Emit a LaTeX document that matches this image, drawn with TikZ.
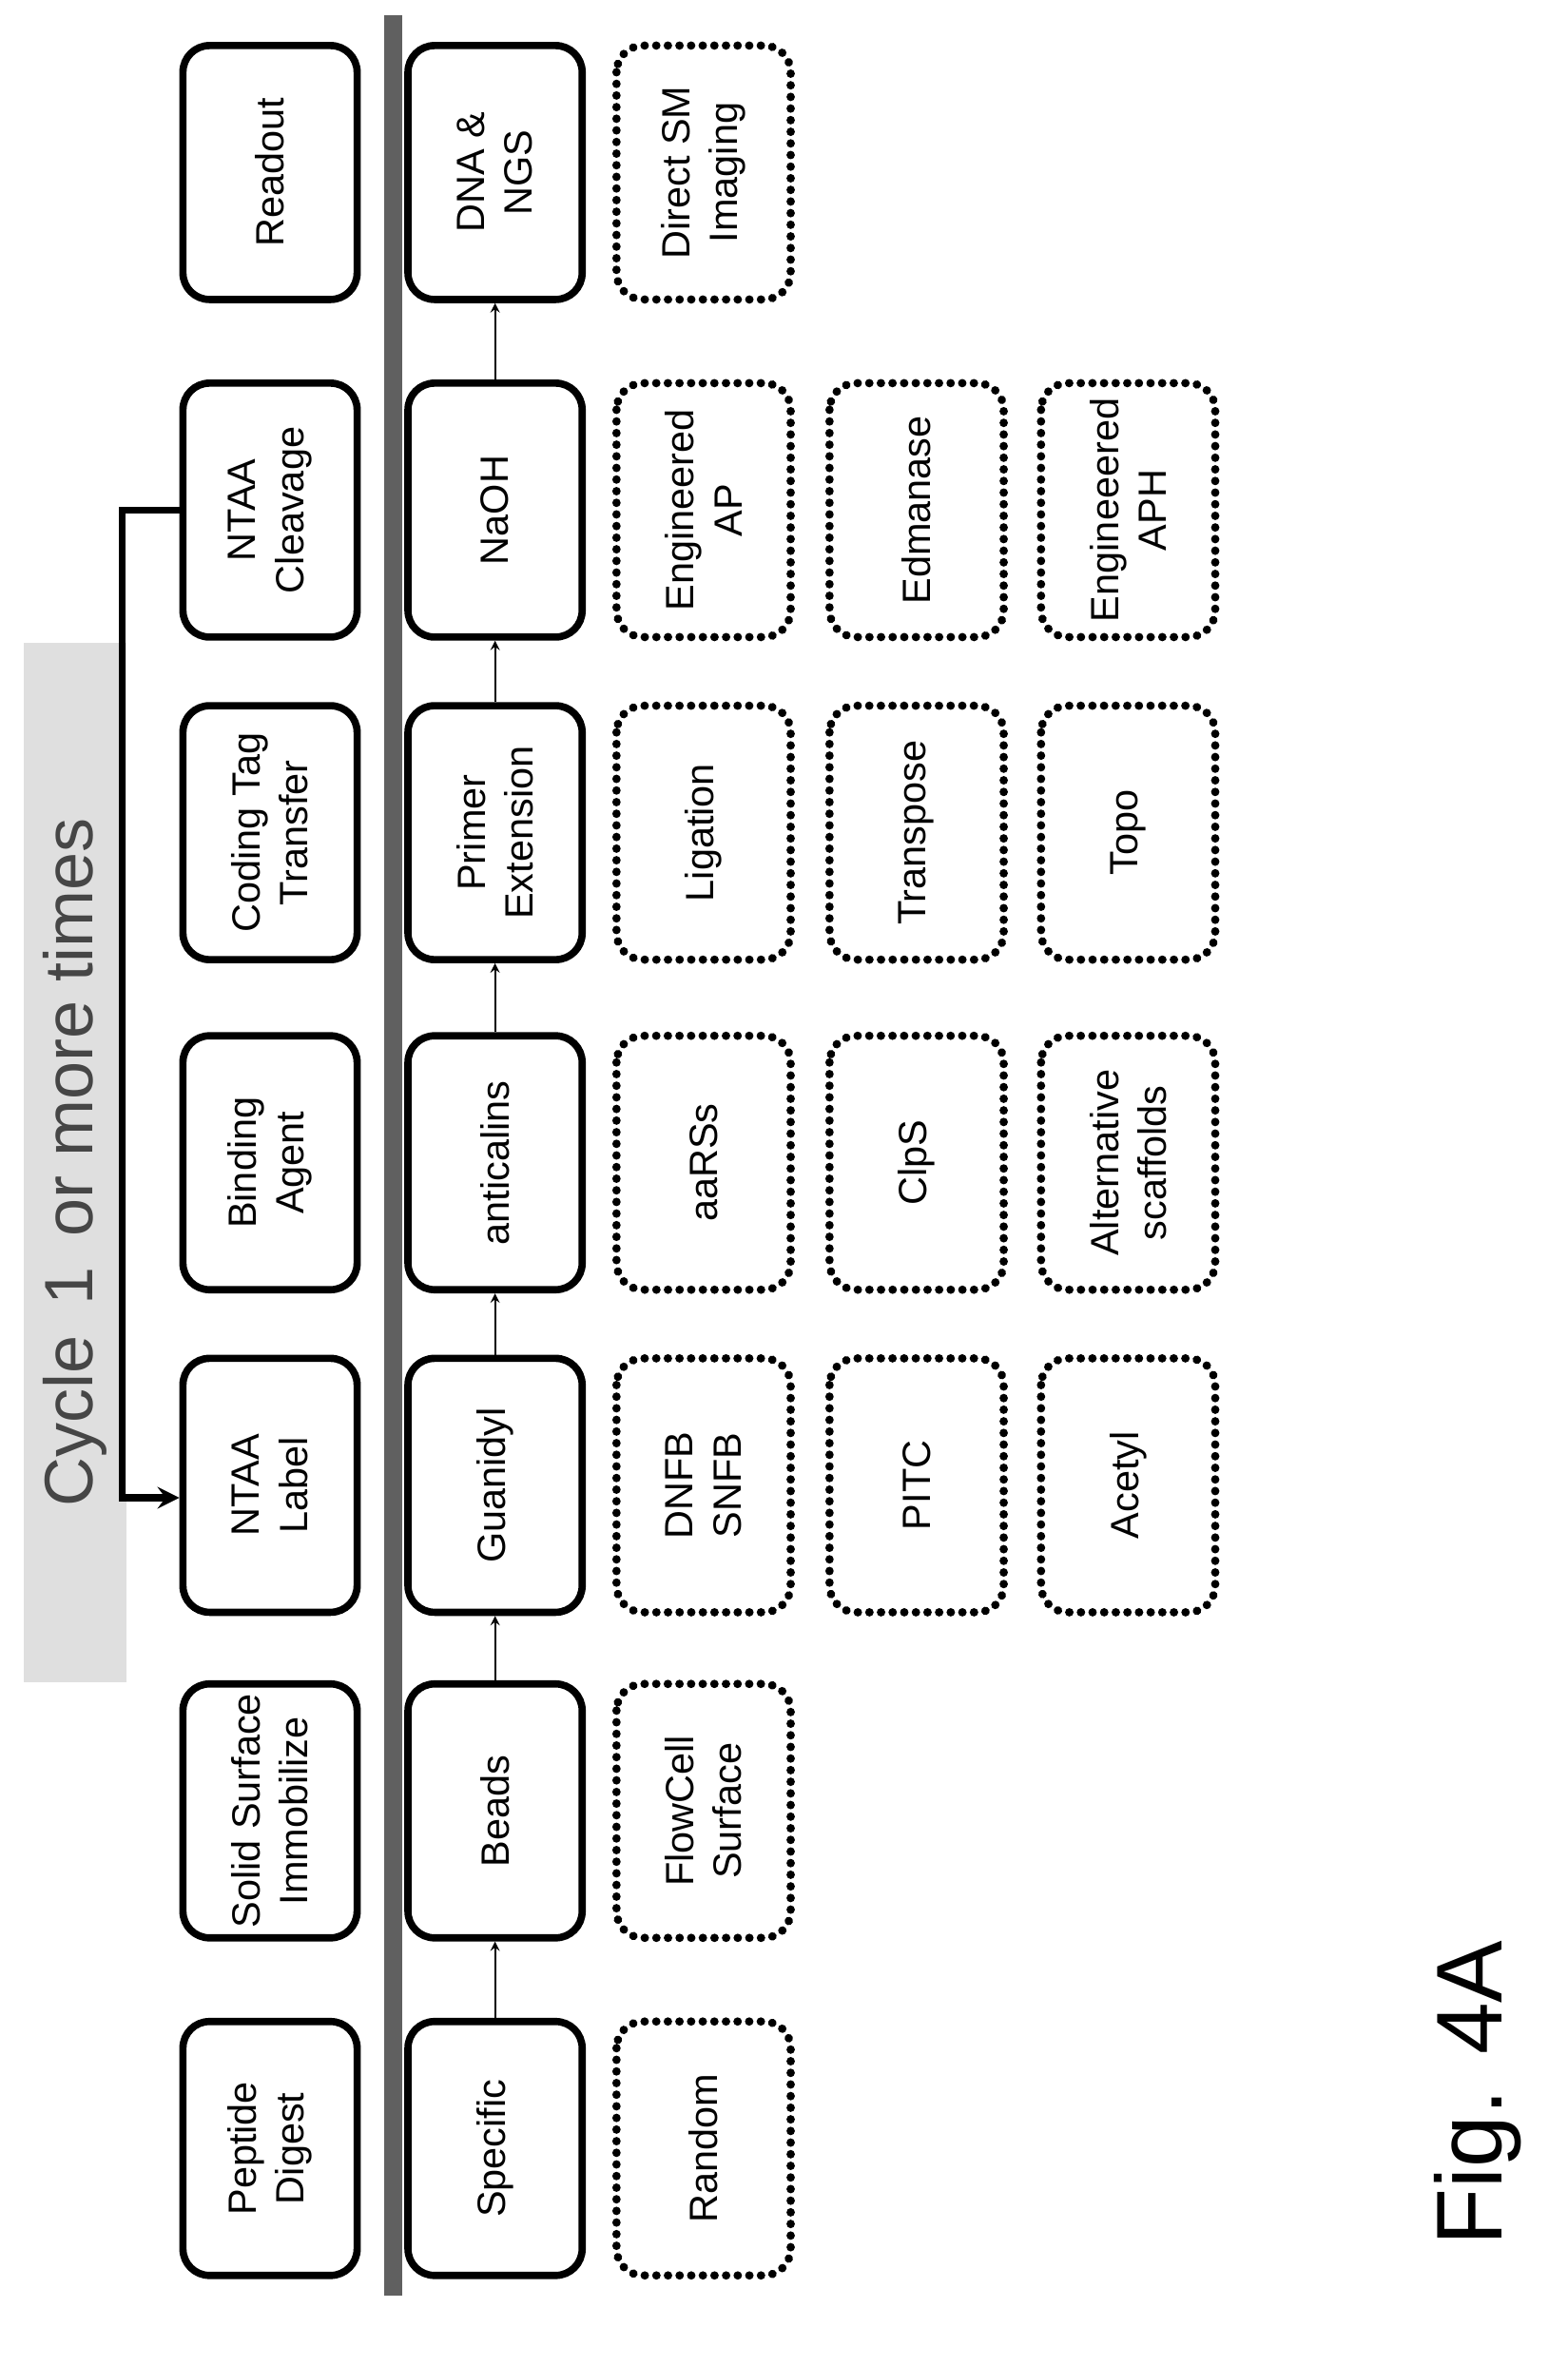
\documentclass[tikz,border=0pt]{standalone}
\usepackage{fontspec}
\setmainfont{Liberation Sans}
\usetikzlibrary{positioning}
\begin{document}
\begin{tikzpicture}[x=0.0254cm, y=-0.0254cm,
	box/.style={draw, line width=3.5pt, rounded corners=0.45cm, rotate=90, minimum width=4.3cm, minimum height=2.95cm, align=center, font=\fontsize{19}{23}\selectfont},
	opt/.style={box, line width=4pt, dash pattern=on 0.1pt off 5.5pt, line cap=round},
	link/.style={->, line width=1pt, >=stealth}]
	
	\useasboundingbox (0,0) rectangle (1045,1577);
	
	%Prima riga: fasi
	\node (digest) at (180,1432) [box]{Peptide\\Digest};
	\node (immob) at (180,1207) [box]{Solid Surface\\Immobilize};
	\node (ntaaLabel) at (180,990) [box]{NTAA\\Label};
	\node (binder) at (180,775) [box]{Binding\\Agent};
	\node (tagTransfer) at (180,555) [box]{Coding Tag\\Transfer};
	\node (ntaaCleave) at (180,340) [box]{NTAA\\Cleavage};
	\node (readout) at (180,115) [box]{Readout};
	
	%Etichetta del ciclo
	\node (cycle) at (50,775) [rotate=90, fill=gray!25, text=gray!55!black, minimum width=17.6cm, minimum height=1.75cm, font=\fontsize{33}{38}\selectfont]{Cycle \,1\, or more times};
	
	%Linea di separazione
	\draw[line width=9pt, gray!75!black] (262,10) -- (262,1530);
	
	%Seconda riga: scelta esempio
	\node (specific) at (330,1432) [box]{Specific};
	\node (beads) at (330,1207) [box]{Beads};
	\node (guanidyl) at (330,990) [box]{Guanidyl};
	\node (anticalins) at (330,775) [box]{anticalins};
	\node (primerExt) at (330,555) [box]{Primer\\Extension};
	\node (naoh) at (330,340) [box]{NaOH};
	\node (dnaNgs) at (330,115) [box]{DNA \&\\NGS};
	
	%Terza riga: alternative
	\node (random) at (469,1432) [opt]{Random};
	\node (flowcell) at (469,1207) [opt]{FlowCell\\Surface};
	\node (dnfb) at (469,990) [opt]{DNFB\\SNFB};
	\node (aarss) at (469,775) [opt]{aaRSs};
	\node (ligation) at (469,555) [opt]{Ligation};
	\node (engAP) at (469,340) [opt]{Engineered\\AP};
	\node (directSM) at (469,115) [opt]{Direct SM\\Imaging};
	
	%Quarta riga
	\node (pitc) at (611,990) [opt]{PITC};
	\node (clps) at (611,775) [opt]{ClpS};
	\node (transpose) at (611,555) [opt]{Transpose};
	\node (edmanase) at (611,340) [opt]{Edmanase};
	
	%Quinta riga
	\node (acetyl) at (752,990) [opt]{Acetyl};
	\node (altScaffold) at (752,775) [opt]{Alternative\\scaffolds};
	\node (topo) at (752,555) [opt]{Topo};
	\node (engAPH) at (752,340) [opt]{Engineeered\\APH};
	
	%Collegamenti
	\draw[link] (specific.east) -- (beads.west);
	\draw[link] (beads.east) -- (guanidyl.west);
	\draw[link] (guanidyl.east) -- (anticalins.west);
	\draw[link] (anticalins.east) -- (primerExt.west);
	\draw[link] (primerExt.east) -- (naoh.west);
	\draw[link] (naoh.east) -- (dnaNgs.west);
	
	\draw[->, line width=3.5pt, >=stealth] (ntaaCleave.north) -- ++(-38,0) coordinate (ritorno) |- ([yshift=-6pt]ntaaLabel.north);
	
	%Didascalia
	\node (caption) at (985,1395) [rotate=90, font=\fontsize{45}{54}\selectfont]{Fig. 4A};
	
\end{tikzpicture}
\end{document}
